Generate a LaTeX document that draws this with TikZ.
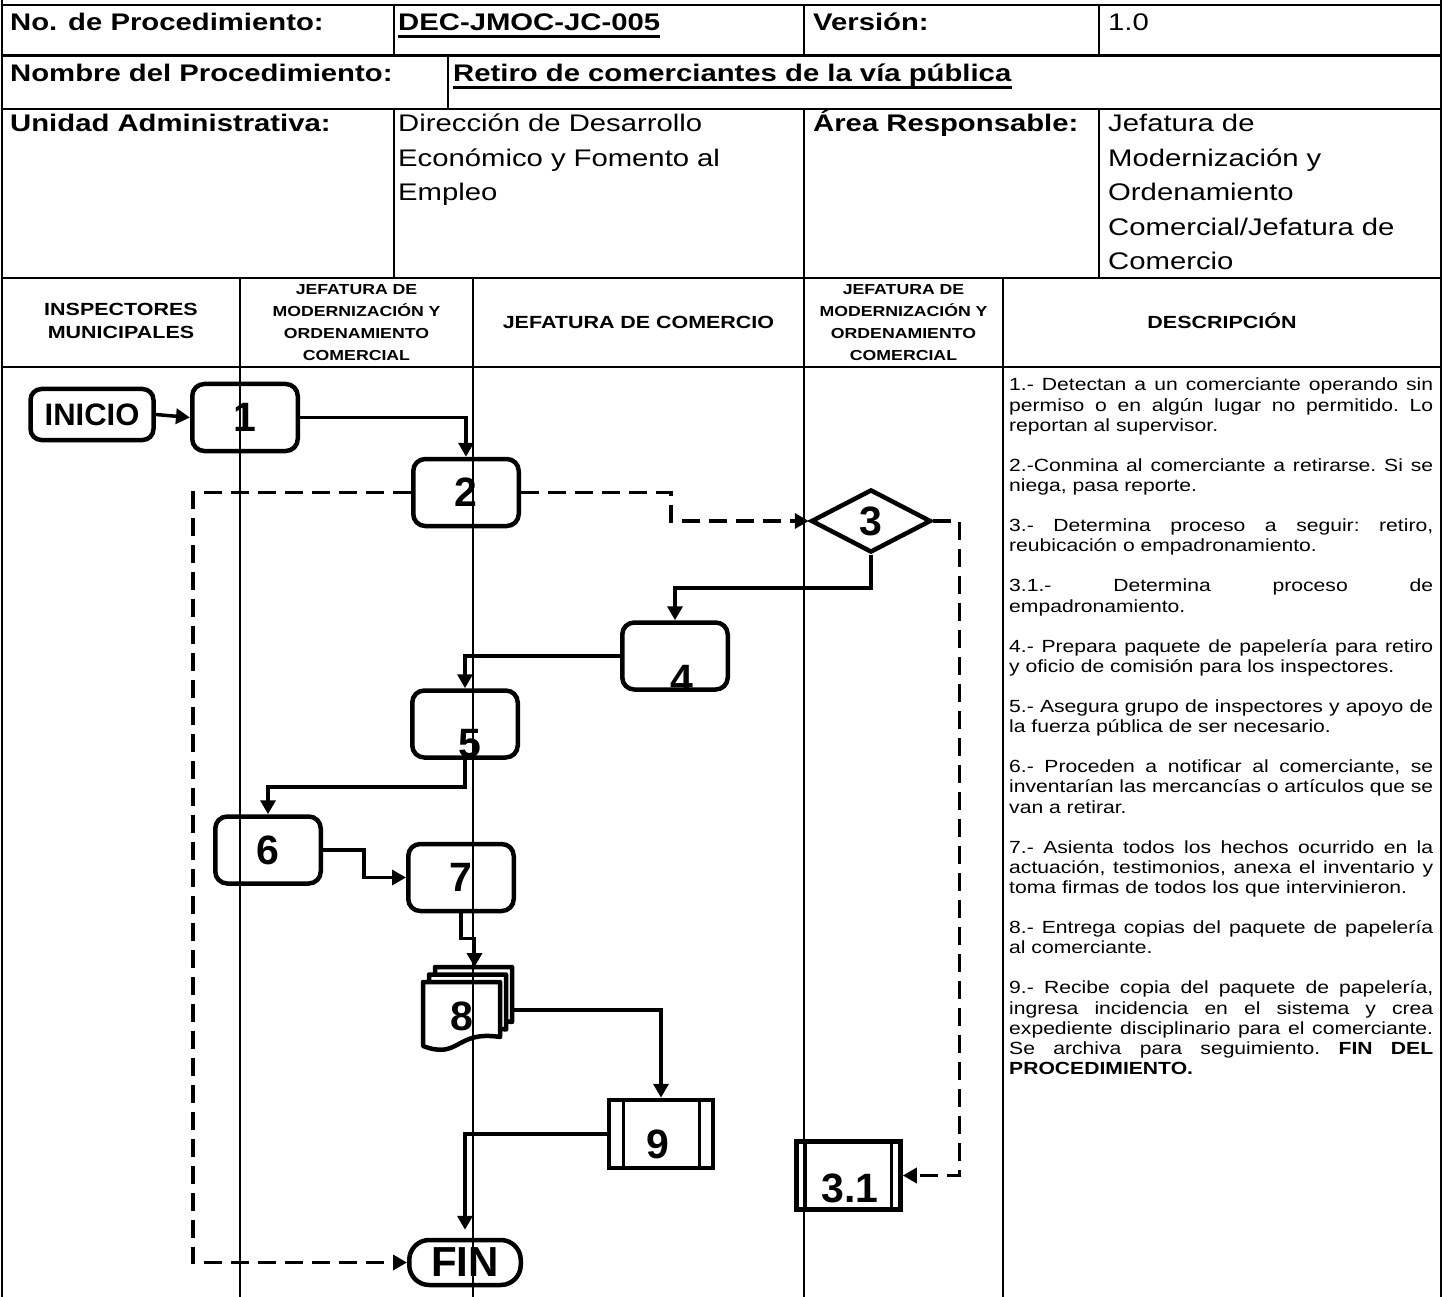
\documentclass[tikz,border=0pt]{standalone}
\usepackage{fontspec}
\setmainfont{Liberation Sans}[FakeStretch=1.22]
\newfontfamily\descfont{Liberation Sans}[FakeStretch=1.2]
\newfontfamily\flowfont{Liberation Sans}
\usetikzlibrary{arrows.meta,shapes.geometric}

\tikzset{
	tableline/.style={line width=2.6pt},
	lane/.style={line width=1.7pt},
	cell/.style={anchor=base west, inner sep=0pt, align=left, font=\fontsize{24}{34.5}\selectfont},
	cellb/.style={cell, font=\fontsize{24}{34.5}\selectfont\bfseries},
	lanehead/.style={anchor=base, inner sep=0pt, align=center, text width=#1, font=\fontsize{17.6}{22.5}\selectfont\bfseries},
	laneheads/.style={lanehead=#1, font=\fontsize{14.5}{21.7}\selectfont\bfseries},
	desc/.style={anchor=base west, inner sep=0pt, text width=424pt, align=justify, font=\descfont\fontsize{17.6}{20.1}\selectfont},
	stepbox/.style={draw, line width=4.5pt, rounded corners=12pt, minimum width=105.5pt, minimum height=67pt, inner sep=0pt, font=\flowfont\fontsize{41}{41}\selectfont\bfseries},
	steplabel/.style={inner sep=0pt, font=\flowfont\fontsize{41}{41}\selectfont\bfseries},
	startbox/.style={stepbox, rounded corners=11pt, minimum width=123pt, minimum height=51pt, font=\flowfont\fontsize{31}{31}\selectfont\bfseries},
	endbox/.style={stepbox, rounded corners=20pt, minimum width=111.5pt, minimum height=45pt, font=\flowfont\fontsize{42}{42}\selectfont\bfseries},
	decision/.style={draw, diamond, line width=4.5pt, minimum width=120pt, minimum height=63pt, inner sep=0pt, font=\flowfont\fontsize{41}{41}\selectfont\bfseries},
	subproc/.style={draw, line width=4.5pt, minimum width=104pt, minimum height=68pt, inner sep=0pt,
		path picture={\draw[line width=3pt] ([xshift=#1]path picture bounding box.north west) -- ([xshift=#1]path picture bounding box.south west)
			([xshift=-#1]path picture bounding box.north east) -- ([xshift=-#1]path picture bounding box.south east);}},
	docline/.style={line width=4.5pt, line join=round, fill=white},
	flow/.style={line width=3.5pt, -{Triangle[length=14pt,width=15pt]}},
	flowdash/.style={flow, dash pattern=on 18pt off 9pt},
}

\begin{document}
\begin{tikzpicture}[x=1pt,y=-1pt]
	\useasboundingbox (0,0) rectangle (1444,1297);

	\draw[tableline] (2,0) -- (2,1297) (1441,0) -- (1441,1297);
	\foreach \y in {5,55.5,109,278,367}
		\draw[tableline] (2,\y) -- (1441,\y);
	\foreach \x in {394,804,1099}
		\draw[tableline] (\x,5) -- (\x,55.5) (\x,109) -- (\x,278);
	\draw[tableline] (448,55.5) -- (448,109);
	\foreach \x in {240,473,804,1003}
		\draw[tableline] (\x,278) -- (\x,367);
	\draw[tableline] (1003,367) -- (1003,1297);

	\node[cellb] (procno) at (10,31) {No. de Procedimiento:};
	\node[cellb] (code) at (398,31) {DEC-JMOC-JC-005};
	\node[cellb] (verlbl) at (813,31) {Versión:};
	\node[cell] (ver) at (1108,31) {1.0};
	\node[cellb] (namelbl) at (10,82) {Nombre del Procedimiento:};
	\node[cellb] (name) at (453,82) {Retiro de comerciantes de la vía pública};
	\draw[line width=2.6pt] ([yshift=-5.5pt]code.base west) -- ([yshift=-5.5pt]code.base east);
	\draw[line width=2.6pt] ([yshift=-5.5pt]name.base west) -- ([yshift=-5.5pt]name.base east);
	\node[cellb] (unitlbl) at (10,132) {Unidad Administrativa:};
	\node[cell, text width=400pt] (unit) at (398,132) {Dirección de Desarrollo\\Económico y Fomento al\\Empleo};
	\node[cellb] (arealbl) at (813,132) {Área Responsable:};
	\node[cell, text width=330pt] (area) at (1108,132) {Jefatura de\\Modernización y\\Ordenamiento\\Comercial/Jefatura de\\Comercio};

	\node[lanehead=230pt] (insp) at (121,316) {INSPECTORES\\MUNICIPALES};
	\node[laneheads=225pt] (jmoc) at (356.5,295) {JEFATURA DE\\MODERNIZACIÓN Y\\ORDENAMIENTO\\COMERCIAL};
	\node[lanehead=320pt] (jcom) at (638.5,329) {JEFATURA DE COMERCIO};
	\node[laneheads=195pt] (jmocb) at (903.5,295) {JEFATURA DE\\MODERNIZACIÓN Y\\ORDENAMIENTO\\COMERCIAL};
	\node[lanehead=430pt] (descr) at (1222,329) {DESCRIPCIÓN};

	\node[desc] (steps) at (1009,391) {\setlength{\parskip}{20.1pt}\frenchspacing\tolerance=10000\hbadness=10000\hyphenpenalty=10000\exhyphenpenalty=10000
		1.- Detectan a un comerciante operando sin\linebreak permiso o en algún lugar no permitido. Lo\linebreak reportan al supervisor.\par
		2.-Conmina al comerciante a retirarse. Si se\linebreak niega, pasa reporte.\par
		3.- Determina proceso a seguir: retiro,\linebreak reubicación o empadronamiento.\par
		3.1.- Determina proceso de\linebreak empadronamiento.\par
		4.- Prepara paquete de papelería para retiro\linebreak y oficio de comisión para los inspectores.\par
		5.- Asegura grupo de inspectores y apoyo de\linebreak la fuerza pública de ser necesario.\par
		6.- Proceden a notificar al comerciante, se\linebreak inventarían las mercancías o artículos que se\linebreak van a retirar.\par
		7.- Asienta todos los hechos ocurrido en la\linebreak actuación, testimonios, anexa el inventario y\linebreak toma firmas de todos los que intervinieron.\par
		8.- Entrega copias del paquete de papelería\linebreak al comerciante.\par
		9.- Recibe copia del paquete de papelería,\linebreak ingresa incidencia en el sistema y crea\linebreak expediente disciplinario para el comerciante.\linebreak Se archiva para seguimiento. \textbf{FIN DEL}\linebreak \textbf{PROCEDIMIENTO.}};

	\node[startbox] (inicio) at (92,414.5) {INICIO};
	\node[stepbox] (n1) at (245,417.5) {1};
	\node[stepbox] (n2) at (466,492.5) {2};
	\node[decision] (n3) at (871,521) {3};
	\node[stepbox] (n4) at (675,656) {};
	\node[stepbox] (n5) at (465,724) {};
	\node[stepbox] (n6) at (268,850) {6};
	\node[stepbox] (n7) at (461,877.5) {7};
	\foreach \dx/\dy in {12/-15,6/-7.5,0/0}
		\draw[docline, shift={(\dx,\dy)}] (423,982) -- (500,982) -- (500,1037)
			.. controls (455,1030) and (460,1060) .. (423,1046) -- cycle;
	\node[steplabel] (n8) at (462,1016) {8};
	\coordinate (d8top) at (474.5,967);
	\coordinate (d8side) at (513,1010);
	\node[subproc=14pt] (n9) at (661,1134) {};
	\node[subproc=9pt] (n31) at (848.5,1175.5) {};
	\node[endbox] (fin) at (465,1262.5) {FIN};

	\begin{scope}
		\clip (n4.north west) rectangle (n4.south east);
		\node[steplabel] (l4) at (682,679) {4};
	\end{scope}
	\node[steplabel] (l5) at (470,744) {5};
	\node[steplabel] (l9) at (658,1144) {9};
	\node[steplabel] (l31) at (850,1188) {3.1};

	\draw[flow] (inicio.east) -- (n1.west);
	\draw[flow] (n1.east) -| (n2.north);
	\draw[flowdash] (n2.east) -- ++(150,0) |- (n3.west);
	\draw[flowdash] (n2.west) -- ++(-218,0) |- (fin.west);
	\draw[flowdash] (n3.east) -- ++(26,0) |- (n31.east);
	\draw[flow] (n3.south) -- ++(0,33) -| (n4.north);
	\draw[flow] (n4.west) -| (n5.north);
	\draw[flow] (n5.south) -- ++(0,27) -| (n6.north);
	\draw[flow] (n6.east) -- ++(41,0) |- (n7.west);
	\draw[flow] (n7.south) -- ++(0,25) -| (d8top);
	\draw[flow] (d8side) -| (n9.north);
	\draw[flow, shorten >=8pt] (n9.west) -| (fin.north);

	\foreach \x in {240,473,804}
		\draw[lane] (\x,367) -- (\x,1297);
\end{tikzpicture}
\end{document}
